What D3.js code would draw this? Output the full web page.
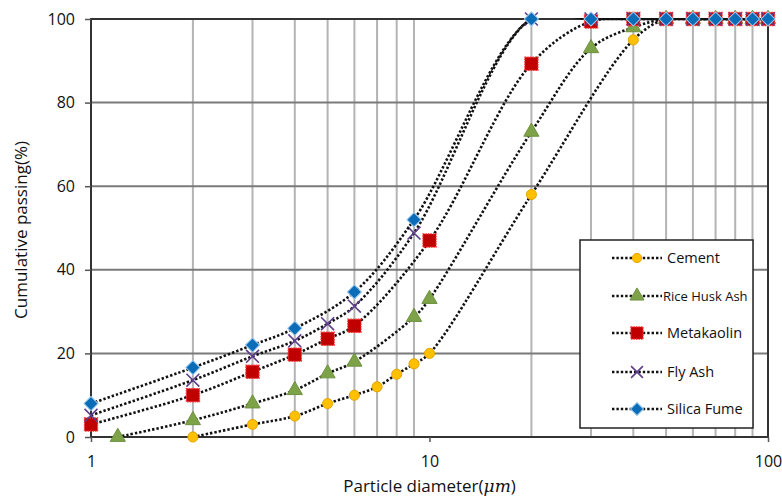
<!DOCTYPE html>
<html>
<head>
<meta charset="utf-8">
<script src="https://cdn.jsdelivr.net/npm/d3@7"></script>
<style>
  body { margin: 0; background: #fff; }
  text { font-family: "Open Sans", "Liberation Sans", sans-serif; fill: #111; }
</style>
</head>
<body>
<div class="chart"></div>
<script>
// series names, in drawing order
var seriesNames = ['Cement', 'Rice Husk Ash', 'Metakaolin', 'Fly Ash', 'Silica Fume'];

// particle diameters (um) and cumulative passing (%)
var cementX = [2, 3, 4, 5, 6, 7, 8, 9, 10, 20, 40, 50, 60, 70, 80, 90, 100];
var cementY = [0, 3, 5, 8, 10, 12, 15, 17.5, 20, 58, 95, 100, 100, 100, 100, 100, 100];

var riceHuskX = [1.2, 2, 3, 4, 5, 6, 9, 10, 20, 30, 40, 50, 60, 70, 80, 90, 100];
var riceHuskY = [0, 4, 8, 11.2, 15.2, 18, 28.7, 33, 73, 93, 98, 100, 100, 100, 100, 100, 100];

var metakaolinX = [1, 2, 3, 4, 5, 6, 10, 20, 30, 40, 50, 60, 70, 80, 90, 100];
var metakaolinY = [3, 10, 15.6, 19.7, 23.5, 26.6, 47, 89.3, 99.4, 100, 100, 100, 100, 100, 100, 100];

var flyAshX = [1, 2, 3, 4, 5, 6, 9, 20, 30, 40, 50, 60, 70, 80, 90, 100];
var flyAshY = [5.2, 13.6, 19.3, 23, 27.1, 31.3, 48.8, 100, 100, 100, 100, 100, 100, 100, 100, 100];

var silicaX = [1, 2, 3, 4, 6, 9, 20, 30, 40, 50, 60, 70, 80, 90, 100];
var silicaY = [8, 16.6, 22, 26, 34.7, 52, 100, 100, 100, 100, 100, 100, 100, 100, 100];

var xTicks = [1, 10, 100];
var xMinor = [2, 3, 4, 5, 6, 7, 8, 9, 20, 30, 40, 50, 60, 70, 80, 90];
var yTicks = [0, 20, 40, 60, 80, 100];

var W = 782, H = 501;
var margin = { top: 19, right: 14, bottom: 64, left: 91 };
var width = W - margin.left - margin.right;
var height = H - margin.top - margin.bottom;

var svg = d3.select('.chart')
  .append('svg')
    .attr('width', W)
    .attr('height', H);

var g = svg.append('g')
  .attr('transform', `translate(${margin.left}, ${margin.top})`);

var xScale = d3.scaleLog().domain([1, 100]).range([0, width]);
var yScale = d3.scaleLinear().domain([0, 100]).range([height, 0]);

// vertical minor gridlines (none at 10)
g.selectAll('.vgrid')
  .data(xMinor)
  .enter()
  .append('line')
  .attr('x1', d => xScale(d)).attr('x2', d => xScale(d))
  .attr('y1', 0).attr('y2', height)
  .style('stroke', '#b4b4b4')
  .style('stroke-width', 2);

// horizontal gridlines
g.selectAll('.hgrid')
  .data(yTicks.slice(1, -1))
  .enter()
  .append('line')
  .attr('x1', 0).attr('x2', width)
  .attr('y1', d => yScale(d)).attr('y2', d => yScale(d))
  .style('stroke', '#7a7a7a')
  .style('stroke-width', 2);

// plot frame
g.append('rect')
  .attr('width', width).attr('height', height)
  .style('fill', 'none')
  .style('stroke', '#333')
  .style('stroke-width', 2);

// axes
var yAxis = g.append('g')
  .call(d3.axisLeft(yScale).tickValues(yTicks).tickSize(6).tickPadding(10));
var xAxis = g.append('g')
  .attr('transform', `translate(0, ${height})`)
  .call(d3.axisBottom(xScale).tickValues(xTicks).tickFormat(d3.format('d')).tickSize(5).tickPadding(14));

[yAxis, xAxis].forEach(function (ax) {
  ax.select('.domain').remove();
  ax.selectAll('line').style('stroke', '#555').style('stroke-width', 1.5);
  ax.selectAll('text')
    .style('font-size', '16px')
    .style('font-family', '"Open Sans", sans-serif')
    .style('fill', '#111');
});

// axis titles
svg.append('text')
  .attr('transform', 'translate(27, 230) rotate(-90)')
  .attr('text-anchor', 'middle')
  .style('font-size', '17px')
  .text('Cumulative passing(%)');

var xt = svg.append('text')
  .attr('x', margin.left + xScale(10))
  .attr('y', 492)
  .attr('text-anchor', 'middle')
  .style('font-size', '17px');
xt.append('tspan').text('Particle diameter(');
xt.append('tspan').style('font-style', 'italic').style('font-family', '"DejaVu Serif", serif').text('μm');
xt.append('tspan').text(')');

// clip the lines to the plot area
svg.append('defs').append('clipPath').attr('id', 'plotclip')
  .append('rect').attr('x', -2).attr('y', -1).attr('width', width + 4).attr('height', height + 2);

var line = d3.line()
  .x(d => xScale(d[0]))
  .y(d => yScale(d[1]))
  .curve(d3.curveCatmullRom.alpha(0.5));

var styles = [
  { sym: d3.symbolCircle, size: 80, rot: 0, fill: '#FFC000', stroke: '#E6A400', sw: 1, dash: null },
  { sym: d3.symbolTriangle, size: 100, rot: 0, fill: '#7DA248', stroke: '#6D9140', sw: 1, dash: null },
  { sym: d3.symbolSquare, size: 175, rot: 0, fill: '#C00000', stroke: '#FF3333', sw: 1.2, dash: '1.5,1' },
  { sym: d3.symbolTimes, size: 110, rot: 0, fill: 'none', stroke: '#5E3E8C', sw: 1.6, dash: null },
  { sym: d3.symbolSquare, size: 100, rot: 45, fill: '#0B6DB8', stroke: '#9CC8EC', sw: 1, dash: null }
];

var allX = [cementX, riceHuskX, metakaolinX, flyAshX, silicaX];
var allY = [cementY, riceHuskY, metakaolinY, flyAshY, silicaY];

var data = seriesNames.map(function (name, i) {
  return { name: name, values: allX[i].map((x, j) => [x, allY[i][j]]), style: styles[i] };
});

function dotted(sel) {
  sel.style('fill', 'none')
    .style('stroke', '#111')
    .style('stroke-width', 2.6)
    .style('stroke-dasharray', '2.4,2');
}

function marker(sel, st, k) {
  sel.attr('d', d3.symbol().type(st.sym).size(st.size * k))
    .style('fill', st.fill)
    .style('stroke', st.stroke)
    .style('stroke-width', st.sw)
    .style('stroke-dasharray', st.dash);
}

data.forEach(function (s) {
  g.append('path')
    .attr('d', line(s.values))
    .attr('clip-path', 'url(#plotclip)')
    .call(dotted);

  g.selectAll(null)
    .data(s.values)
    .enter()
    .append('path')
    .attr('transform', d => `translate(${xScale(d[0])}, ${yScale(d[1])}) rotate(${s.style.rot})`)
    .call(marker, s.style, 1);
});

// legend
var legend = svg.append('g').attr('transform', 'translate(580, 240)');
legend.append('rect')
  .attr('width', 173).attr('height', 188)
  .style('fill', '#fff')
  .style('stroke', '#222')
  .style('stroke-width', 1.5);

var rowY = [18, 56, 93, 132, 169];
var textX = [87, 83, 87, 87, 87];
var fontSizes = [14.5, 13, 14.5, 14.5, 14.5];

data.forEach(function (s, i) {
  var row = legend.append('g').attr('transform', `translate(0, ${rowY[i]})`);
  row.append('line').attr('x1', 32).attr('x2', 82).attr('y1', 0).attr('y2', 0).call(dotted);
  row.append('path')
    .attr('transform', `translate(57, 0) rotate(${s.style.rot})`)
    .call(marker, s.style, 0.85);
  row.append('text')
    .attr('x', textX[i]).attr('y', 5)
    .style('font-size', fontSizes[i] + 'px')
    .text(s.name);
});
</script>
</body>
</html>
